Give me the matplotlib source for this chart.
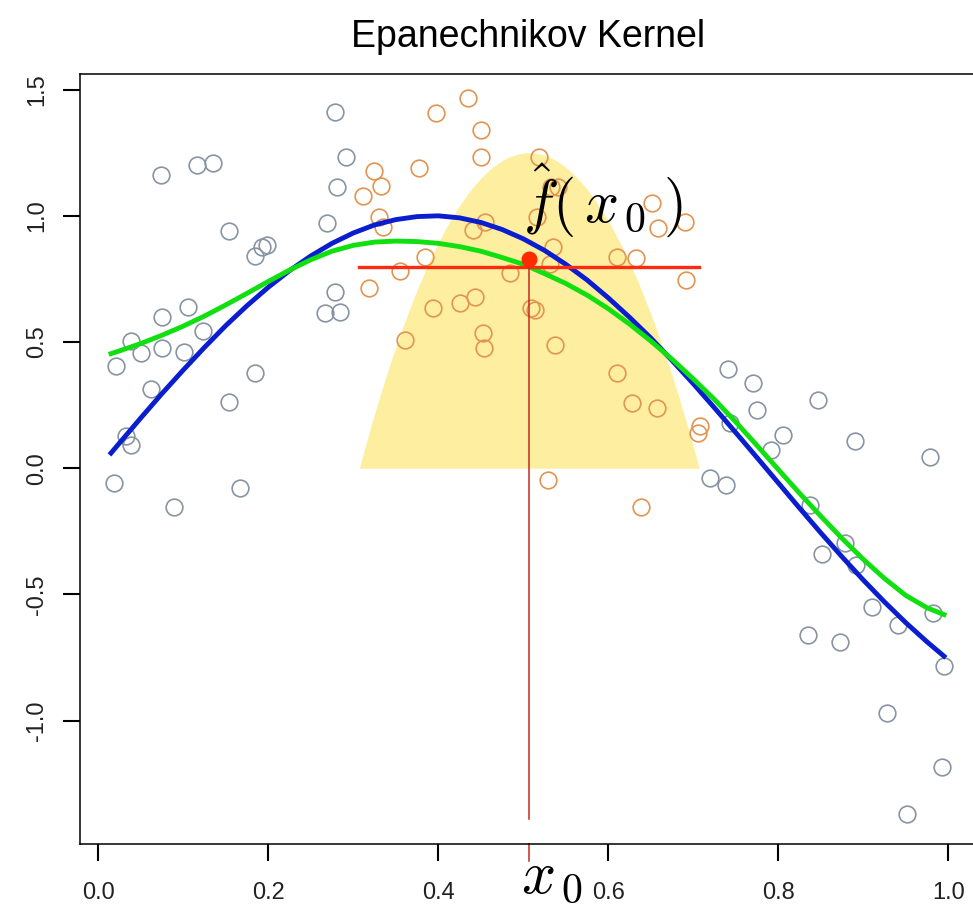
import numpy as np
import matplotlib
matplotlib.use('Agg')
import matplotlib.pyplot as plt

plt.rcParams['font.family'] = 'Liberation Sans'
plt.rcParams['mathtext.fontset'] = 'cm'

# observations outside the kernel window (grey)
out_x = [0.278, 0.292, 0.074, 0.116, 0.135, 0.281, 0.154, 0.269, 0.184, 0.193,
         0.199, 0.279, 0.267, 0.284, 0.106, 0.075, 0.039, 0.050, 0.075, 0.101,
         0.123, 0.021, 0.062, 0.184, 0.154, 0.033, 0.038, 0.019, 0.089, 0.167,
         0.741, 0.770, 0.775, 0.847, 0.806, 0.890, 0.979, 0.743, 0.792, 0.720,
         0.739, 0.837, 0.852, 0.879, 0.892, 0.910, 0.941, 0.982, 0.835, 0.873,
         0.995, 0.928, 0.993, 0.951]
out_y = [1.412, 1.232, 1.160, 1.201, 1.208, 1.113, 0.941, 0.973, 0.841, 0.878,
         0.884, 0.699, 0.614, 0.620, 0.637, 0.598, 0.505, 0.458, 0.475, 0.462,
         0.545, 0.405, 0.313, 0.376, 0.264, 0.128, 0.092, -0.057, -0.155, -0.080,
         0.392, 0.339, 0.231, 0.270, 0.132, 0.109, 0.043, 0.180, 0.072, -0.040,
         -0.067, -0.146, -0.340, -0.298, -0.384, -0.549, -0.621, -0.573, -0.661, -0.687,
         -0.784, -0.971, -1.183, -1.370]

# observations inside the kernel window (orange)
in_x = [0.435, 0.397, 0.450, 0.450, 0.324, 0.377, 0.333, 0.312, 0.518, 0.533,
        0.541, 0.330, 0.335, 0.455, 0.441, 0.516, 0.535, 0.651, 0.659, 0.690,
        0.384, 0.355, 0.484, 0.531, 0.610, 0.633, 0.692, 0.318, 0.394, 0.426,
        0.443, 0.509, 0.514, 0.361, 0.453, 0.454, 0.537, 0.610, 0.628, 0.657,
        0.708, 0.706, 0.529, 0.638]
in_y = [1.466, 1.406, 1.340, 1.234, 1.179, 1.188, 1.118, 1.078, 1.232, 1.115,
        1.115, 0.997, 0.957, 0.977, 0.944, 0.997, 0.875, 1.052, 0.952, 0.977,
        0.838, 0.783, 0.775, 0.808, 0.838, 0.832, 0.746, 0.713, 0.636, 0.656,
        0.680, 0.633, 0.627, 0.508, 0.534, 0.475, 0.488, 0.376, 0.257, 0.237,
        0.168, 0.138, -0.047, -0.152]

# true function and kernel-weighted fit on a common grid
curve_x = [0.015, 0.025, 0.05, 0.075, 0.1, 0.125, 0.15, 0.175, 0.2, 0.225,
           0.25, 0.275, 0.3, 0.325, 0.35, 0.375, 0.4, 0.425, 0.45, 0.475,
           0.5, 0.525, 0.55, 0.575, 0.6, 0.625, 0.65, 0.675, 0.7, 0.725,
           0.75, 0.775, 0.8, 0.825, 0.85, 0.875, 0.9, 0.925, 0.95, 0.975, 0.995]
true_f = [0.060, 0.100, 0.199, 0.296, 0.389, 0.479, 0.565, 0.644, 0.717, 0.783,
          0.841, 0.891, 0.932, 0.964, 0.985, 0.997, 1.000, 0.992, 0.974, 0.946,
          0.909, 0.863, 0.808, 0.746, 0.675, 0.598, 0.516, 0.427, 0.335, 0.239,
          0.141, 0.042, -0.058, -0.158, -0.256, -0.351, -0.443, -0.530, -0.612, -0.688,
          -0.745]
fit_f = [0.454, 0.465, 0.494, 0.527, 0.563, 0.603, 0.647, 0.693, 0.740, 0.785,
         0.826, 0.860, 0.883, 0.896, 0.900, 0.898, 0.891, 0.878, 0.860, 0.835,
         0.808, 0.771, 0.732, 0.686, 0.632, 0.571, 0.504, 0.432, 0.354, 0.272,
         0.183, 0.090, -0.005, -0.099, -0.190, -0.278, -0.361, -0.437, -0.504, -0.553,
         -0.580]

x0 = 0.507
lam = 0.2
kernel_height = 1.25
fhat = 0.798
fhat_dot = 0.83
vline_bottom = -1.39

fig = plt.figure(figsize=(9.73, 9.07), dpi=100)
ax = fig.add_axes([80 / 973, 63 / 907, 897 / 973, 770 / 907])
ax.set_xlim(-0.0215, 1.0338)
ax.set_ylim(-1.489, 1.562)

# Epanechnikov weights over the window around x0
t = np.linspace(-1, 1, 201)
ax.fill_between(x0 + lam * t, 0, kernel_height * (1 - t ** 2),
                color='#fdeea0', lw=0, zorder=1)

ax.plot(out_x, out_y, 'o', mfc='none', mec='#8795a3', ms=12, mew=1.2, zorder=2)
ax.plot(in_x, in_y, 'o', mfc='none', mec='#e39450', ms=12, mew=1.2, zorder=2)

ax.plot(curve_x, true_f, color='#0a1ed0', lw=3.5, zorder=3)
ax.plot(curve_x, fit_f, color='#10e010', lw=3.5, zorder=4)

ax.plot([x0 - lam, x0 + lam], [fhat, fhat], color='#ff2a10', lw=2.4, zorder=5)
ax.plot([x0, x0], [vline_bottom, fhat], color='#c8281c', lw=1.1, zorder=5)
ax.plot(x0, fhat_dot, 'o', color='#ff2a00', ms=10.5, zorder=6)

# red tick marking x0 on the axis
ax.plot([x0, x0], [0, -0.022], transform=ax.get_xaxis_transform(),
        clip_on=False, color='#c8281c', lw=1.1)
ax.annotate(r'$x_{\,0}$', xy=(x0, 0), xycoords=('data', 'axes fraction'),
            xytext=(-8, -49), textcoords='offset pixels',
            ha='left', va='baseline', fontsize=43, annotation_clip=False)
ax.annotate(r'$\hat{f}(\,x_{\,0}\;)$', xy=(x0, fhat), xytext=(-6, 44),
            textcoords='offset pixels', ha='left', va='baseline',
            fontsize=43, zorder=7)

ax.set_xticks([0.0, 0.2, 0.4, 0.6, 0.8, 1.0],
              ['0.0', '0.2', '0.4', '0.6', '0.8', '1.0'])
ax.set_yticks([-1.0, -0.5, 0.0, 0.5, 1.0, 1.5],
              ['-1.0', '-0.5', '0.0', '0.5', '1.0', '1.5'],
              rotation=90, va='center')
ax.tick_params(length=12.2, width=1.5, labelsize=17, labelcolor='#222222')
ax.tick_params(axis='x', pad=15)
ax.tick_params(axis='y', pad=11)
for s in ax.spines.values():
    s.set_linewidth(1.1)

ax.set_title('Epanechnikov Kernel', fontsize=27, pad=19.4)

fig.savefig('out.png', dpi=100)
